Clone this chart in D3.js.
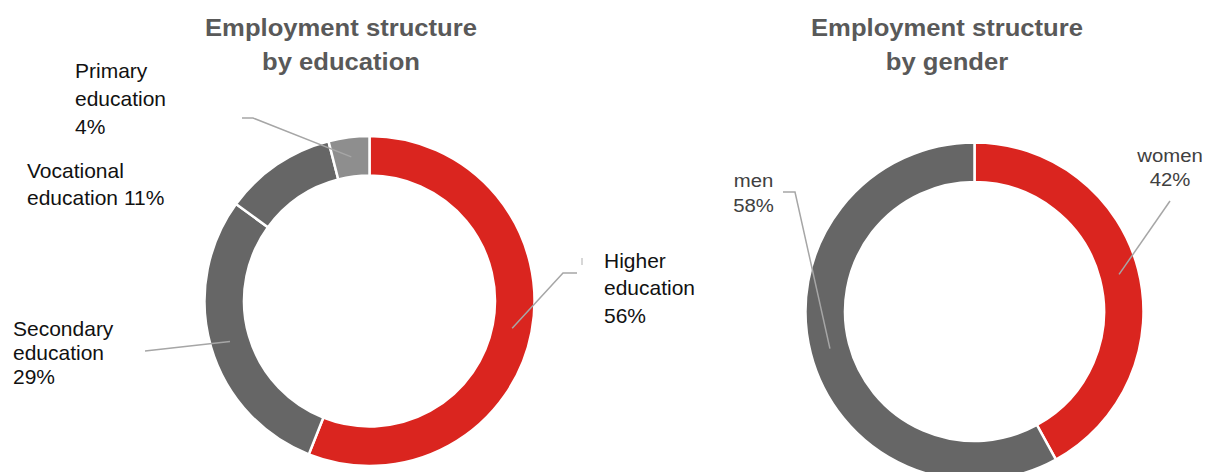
<!DOCTYPE html>
<html>
<head>
<meta charset="utf-8">
<script src="https://cdn.jsdelivr.net/npm/d3@7"></script>
<style>
  html, body { margin: 0; padding: 0; background: #fff; }
  svg { display: block; }
  text { font-family: "Liberation Sans", Arial, sans-serif; }
</style>
</head>
<body>
<svg id="chart" width="1206" height="472"></svg>
<script>
// Employment structure data
const eduCategories = ["Higher education", "Secondary education", "Vocational education", "Primary education"];
const eduValues = [56, 29, 11, 4];
const genderCategories = ["women", "men"];
const genderValues = [42, 58];

const eduColors = ["#DA251F", "#666666", "#666666", "#8E8E8E"];
const genderColors = ["#DA251F", "#666666"];

const svg = d3.select("#chart");

// Ring layouts for the two donuts
const donuts = [
  {
    title: ["Employment structure", "by education"],
    titleX: 341,
    cx: 369.5, cy: 301, outer: 165, inner: 125.5,
    categories: eduCategories, values: eduValues, colors: eduColors,
    labelFill: "#111111", labelSize: 20, labelStretch: 1.05,
    labels: [
      { lines: ["Higher", "education", "{v}"], x: 604, y: 268, dy: 27.5, anchor: "start",
        leader: [[563, 273], [577, 273]], tick: [[582, 258], [582, 265]] },
      { lines: ["Secondary", "education", "{v}"], x: 13, y: 336, dy: 24, anchor: "start",
        leader: [[145, 351]] },
      { lines: ["Vocational", "education {v}"], x: 27, y: 178, dy: 27, anchor: "start",
        leader: null },
      { lines: ["Primary", "education", "{v}"], x: 75, y: 78, dy: 28, anchor: "start",
        leader: [[253, 118], [242, 118]] }
    ]
  },
  {
    title: ["Employment structure", "by gender"],
    titleX: 947,
    cx: 974.5, cy: 311.5, outer: 169, inner: 129.5,
    categories: genderCategories, values: genderValues, colors: genderColors,
    labelFill: "#404040", labelSize: 18.5, labelStretch: 1.1,
    labels: [
      { lines: ["women", "{v}"], x: 1170, y: 162, dy: 24, anchor: "middle",
        leader: [[1170, 201]] },
      { lines: ["men", "{v}"], x: 753.5, y: 187, dy: 25, anchor: "middle",
        leader: [[795, 192], [783, 192]] }
    ]
  }
];

donuts.forEach(cfg => {
  const g = svg.append("g");

  // Title
  const title = g.append("text")
    .attr("transform", `translate(${cfg.titleX},0) scale(1.1,1)`)
    .attr("text-anchor", "middle")
    .attr("fill", "#595959")
    .attr("font-weight", "bold")
    .attr("font-size", 23.3);
  cfg.title.forEach((t, i) => {
    title.append("tspan").attr("x", 0).attr("y", 36 + i * 34).text(t);
  });

  const pie = d3.pie().sort(null).value(d => d.value).startAngle(0).endAngle(2 * Math.PI);
  const arcs = pie(cfg.categories.map((c, i) => ({ name: c, value: cfg.values[i], color: cfg.colors[i] })));

  const arc = d3.arc().innerRadius(cfg.inner).outerRadius(cfg.outer);
  const mid = (cfg.inner + cfg.outer) / 2;
  const midArc = d3.arc().innerRadius(mid).outerRadius(mid);

  const ring = g.append("g").attr("transform", `translate(${cfg.cx},${cfg.cy})`);
  ring.selectAll("path")
    .data(arcs)
    .join("path")
    .attr("d", arc)
    .attr("fill", d => d.data.color)
    .attr("stroke", "#ffffff")
    .attr("stroke-width", 2.5)
    .attr("stroke-linejoin", "miter");

  // Leader lines and labels
  const line = d3.line();
  arcs.forEach((a, i) => {
    const lab = cfg.labels[i];
    const [mx, my] = midArc.centroid(a);
    const anchor = [cfg.cx + mx, cfg.cy + my];
    if (lab.leader) {
      g.append("path")
        .attr("d", line([anchor, ...lab.leader]))
        .attr("fill", "none")
        .attr("stroke", "#A6A6A6")
        .attr("stroke-width", 1.5);
    }
    if (lab.tick) {
      g.append("path")
        .attr("d", line(lab.tick))
        .attr("fill", "none")
        .attr("stroke", "#BDBDBD")
        .attr("stroke-width", 1.2);
    }
    const txt = g.append("text")
      .attr("transform", `translate(${lab.x},${lab.y}) scale(${cfg.labelStretch},1)`)
      .attr("text-anchor", lab.anchor)
      .attr("fill", cfg.labelFill)
      .attr("font-size", cfg.labelSize);
    lab.lines.forEach((t, j) => {
      txt.append("tspan")
        .attr("x", 0)
        .attr("y", j * lab.dy)
        .text(t.replace("{v}", a.data.value + "%"));
    });
  });
});
</script>
</body>
</html>
